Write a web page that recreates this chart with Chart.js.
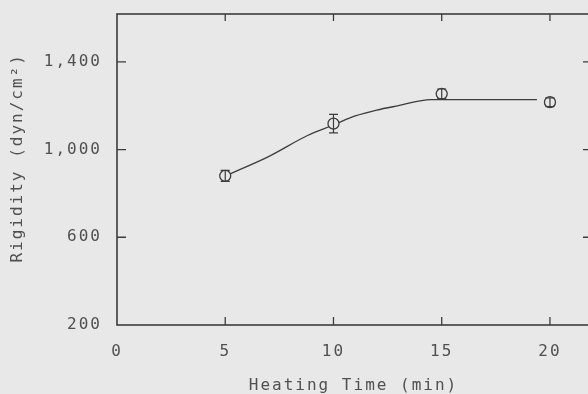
<!DOCTYPE html>
<html>
<head>
<meta charset="utf-8">
<script src="https://cdn.jsdelivr.net/npm/chart.js@4"></script>
<style>
	html, body { margin: 0; padding: 0; background: #e8e8e8; overflow: hidden; }
	#wrap { width: 600px; height: 394px; }
</style>
</head>
<body>
<div id="wrap"><canvas id="rigidityChart" width="600" height="394"></canvas></div>
<script>
'use strict';

const heatingTimes = [5, 10, 15, 20];
const rigidity = [880, 1118, 1254, 1216];
const rigidityError = [25, 42, 22, 20];

// hand drawn fit curve
const fitTimes = [5, 7, 8.8, 10, 11, 12, 13, 14.5, 19.4];
const fitRigidity = [880, 968, 1064, 1112, 1153, 1180, 1200, 1228, 1228];

const xTicks = [0, 5, 10, 15, 20];
const yTicks = [200, 600, 1000, 1400];

const bgColor = '#e8e8e8';
const inkColor = '#3c3c3c';
const textColor = '#505050';
const monoFont = "'DejaVu Sans Mono', monospace";

// inward tick marks, frame and error bars
const framePlugin = {
	id: 'frame',
	beforeUpdate(chart) {
		chart.ctx.letterSpacing = '2px';
	},
	beforeDraw(chart) {
		chart.ctx.letterSpacing = '2px';
	},
	afterDatasetsDraw(chart) {
		const ctx = chart.ctx;
		const area = chart.chartArea;
		const xScale = chart.scales.x;
		const yScale = chart.scales.y;
		ctx.save();
		ctx.letterSpacing = '0px';
		ctx.strokeStyle = inkColor;

		ctx.lineWidth = 1.2;
		ctx.beginPath();
		heatingTimes.forEach(function (t, i) {
			const x = xScale.getPixelForValue(t);
			const top = yScale.getPixelForValue(rigidity[i] + rigidityError[i]);
			const bottom = yScale.getPixelForValue(rigidity[i] - rigidityError[i]);
			ctx.moveTo(x, top);
			ctx.lineTo(x, bottom);
			ctx.moveTo(x - 4.5, top);
			ctx.lineTo(x + 4.5, top);
			ctx.moveTo(x - 4.5, bottom);
			ctx.lineTo(x + 4.5, bottom);
		});
		ctx.stroke();

		ctx.lineWidth = 1.6;
		ctx.strokeRect(area.left, area.top, area.right - area.left, area.bottom - area.top);

		ctx.lineWidth = 1.3;
		ctx.beginPath();
		xTicks.forEach(function (v) {
			if (v <= xScale.min) return;
			const x = xScale.getPixelForValue(v);
			ctx.moveTo(x, area.bottom);
			ctx.lineTo(x, area.bottom - 8);
			ctx.moveTo(x, area.top);
			ctx.lineTo(x, area.top + 7);
		});
		yTicks.forEach(function (v) {
			if (v <= yScale.min) return;
			const y = yScale.getPixelForValue(v);
			ctx.moveTo(area.left, y);
			ctx.lineTo(area.left + 9, y);
			ctx.moveTo(area.right, y);
			ctx.lineTo(area.right - 7, y);
		});
		ctx.stroke();
		ctx.restore();
	}
};

const chart = new Chart(document.getElementById('rigidityChart'), {
	type: 'line',
	data: {
		datasets: [{
			label: 'Rigidity',
			data: heatingTimes.map((t, i) => ({ x: t, y: rigidity[i] })),
			showLine: false,
			pointRadius: 5.5,
			pointBackgroundColor: bgColor,
			pointBorderColor: inkColor,
			pointBorderWidth: 1.3
		}, {
			label: 'Fit',
			data: fitTimes.map((t, i) => ({ x: t, y: fitRigidity[i] })),
			borderColor: inkColor,
			borderWidth: 1.3,
			pointRadius: 0,
			cubicInterpolationMode: 'monotone',
			fill: false
		}]
	},
	options: {
		responsive: false,
		animation: false,
		devicePixelRatio: 1,
		layout: { padding: { top: 14, right: 10, left: 0, bottom: 0 } },
		plugins: {
			legend: { display: false },
			tooltip: { enabled: false }
		},
		scales: {
			x: {
				type: 'linear',
				min: 0,
				max: 21.85,
				afterBuildTicks: (scale) => { scale.ticks = xTicks.map(v => ({ value: v })); },
				afterFit: (scale) => {
					scale.height = 69;
					scale.paddingLeft = 0;
					scale.paddingRight = 0;
				},
				grid: { display: false, drawTicks: false },
				border: { display: false },
				ticks: {
					color: textColor,
					font: { family: monoFont, size: 16 },
					padding: 17,
					maxRotation: 0,
					autoSkip: false
				},
				title: {
					display: true,
					text: 'Heating Time (min)',
					color: textColor,
					font: { family: monoFont, size: 16, lineHeight: 1 },
					padding: { top: 0, bottom: 0 }
				}
			},
			y: {
				type: 'linear',
				min: 200,
				max: 1618,
				afterBuildTicks: (scale) => { scale.ticks = yTicks.map(v => ({ value: v })); },
				afterFit: (scale) => {
					scale.width = 117;
					scale.paddingTop = 0;
					scale.paddingBottom = 0;
				},
				grid: { display: false, drawTicks: false },
				border: { display: false },
				ticks: {
					color: textColor,
					font: { family: monoFont, size: 16 },
					padding: 15,
					autoSkip: false,
					callback: (v) => v.toLocaleString('en-US')
				},
				title: {
					display: true,
					text: '\u00a0\u00a0Rigidity (dyn/cm²)',
					color: textColor,
					font: { family: monoFont, size: 16, lineHeight: 1 },
					padding: { top: 10, bottom: 0 }
				}
			}
		}
	},
	plugins: [framePlugin]
});
</script>
</body>
</html>
